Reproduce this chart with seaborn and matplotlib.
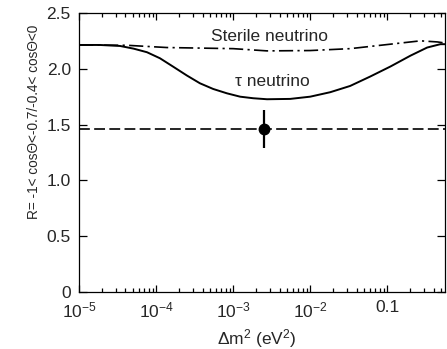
import matplotlib
matplotlib.use("Agg")
import matplotlib.pyplot as plt
import matplotlib.ticker as mticker
import numpy as np
import pandas as pd
import seaborn as sns

# valores
tau_dm2 = [1e-5, 1.86e-5, 3.4e-5, 5.1e-5, 7.6e-5, 1.12e-4, 1.66e-4, 2.5e-4,
           3.7e-4, 5.5e-4, 8.3e-4, 1.23e-3, 1.82e-3, 2.75e-3, 5.5e-3, 1.0e-2,
           1.82e-2, 3.3e-2, 6.0e-2, 0.11, 0.2, 0.33, 0.49, 0.566]
tau_R = [2.213, 2.213, 2.204, 2.18, 2.148, 2.094, 2.019, 1.94,
         1.87, 1.819, 1.78, 1.75, 1.736, 1.727, 1.73, 1.75,
         1.79, 1.846, 1.93, 2.02, 2.117, 2.19, 2.22, 2.22]

ster_dm2 = [1e-5, 4.2e-5, 1.38e-4, 1.0e-3, 2.75e-3, 1.0e-2, 3.3e-2, 0.11,
            0.27, 0.45, 0.566]
ster_R = [2.213, 2.21, 2.19, 2.18, 2.16, 2.163, 2.18, 2.22, 2.25, 2.24, 2.23]

nivel_datos = 1.46
punto_dm2 = [2.5e-3]
punto_R = [1.46]
punto_err = [0.17]

x_ticks = [1e-5, 1e-4, 1e-3, 1e-2, 1e-1]
x_tick_labels = ["$10^{-5}$", "$10^{-4}$", "$10^{-3}$", "$10^{-2}$", "0.1"]
y_ticks = [0, 0.5, 1.0, 1.5, 2.0, 2.5]
y_tick_labels = ["0", "0.5", "1.0", "1.5", "2.0", "2.5"]

sns.set_theme(style="ticks")
plt.rcParams["font.family"] = ["Liberation Sans", "DejaVu Sans"]
plt.rcParams["mathtext.fontset"] = "custom"
plt.rcParams["mathtext.rm"] = "Liberation Sans"
plt.rcParams["mathtext.it"] = "Liberation Sans:italic"
plt.rcParams["mathtext.default"] = "regular"

df_tau = pd.DataFrame({"dm2": tau_dm2, "R": tau_R})
df_ster = pd.DataFrame({"dm2": ster_dm2, "R": ster_R})

fig = plt.figure(figsize=(4.47, 3.49), dpi=100)
ax = fig.add_axes([0.177, 0.163, 0.819, 0.8])

sns.lineplot(data=df_tau, x="dm2", y="R", ax=ax, color="black", lw=1.4)
sns.lineplot(data=df_ster, x="dm2", y="R", ax=ax, color="black", lw=1.2)
ax.lines[-1].set_dashes((8.5, 2.6, 1.3, 2.6))
ax.axhline(nivel_datos, color="black", lw=1.2, dashes=(6.5, 2.6))
ax.errorbar(punto_dm2, punto_R, yerr=punto_err, fmt="o", color="black",
            ms=7.5, elinewidth=1.6, capsize=0)

ax.text(3.0e-3, 2.29, "Sterile neutrino", ha="center", va="center", fontsize=12.5)
ax.text(3.2e-3, 1.885, "τ neutrino", ha="center", va="center", fontsize=12.5)

ax.set_xscale("log")
ax.set_xlim(1e-5, 0.566)
ax.set_ylim(0, 2.5)
ax.set_xticks(x_ticks)
ax.xaxis.set_major_formatter(mticker.FixedFormatter(x_tick_labels))
ax.xaxis.set_minor_locator(mticker.LogLocator(base=10, subs=np.arange(2, 10)))
ax.xaxis.set_minor_formatter(mticker.NullFormatter())
ax.set_yticks(y_ticks)
ax.set_yticklabels(y_tick_labels)

ax.tick_params(which="both", direction="in", top=True, right=True,
               labelsize=12.5, color="black", width=0.9)
ax.tick_params(axis="x", which="major", length=5, pad=6)
ax.tick_params(axis="x", which="minor", length=3)
ax.tick_params(axis="y", which="major", length=6, pad=6)
for s in ax.spines.values():
    s.set_color("black")
    s.set_linewidth(0.9)

ax.set_xlabel("$\\Delta$m$^2$ (eV$^2$)", fontsize=12.5)
ax.xaxis.set_label_coords(0.484, -0.125)
ax.set_ylabel("R= -1< cosΘ<-0.7/-0.4< cosΘ<0", fontsize=9.8)
ax.yaxis.set_label_coords(-0.105, 0.609)

fig.savefig("out.png", dpi=100)
